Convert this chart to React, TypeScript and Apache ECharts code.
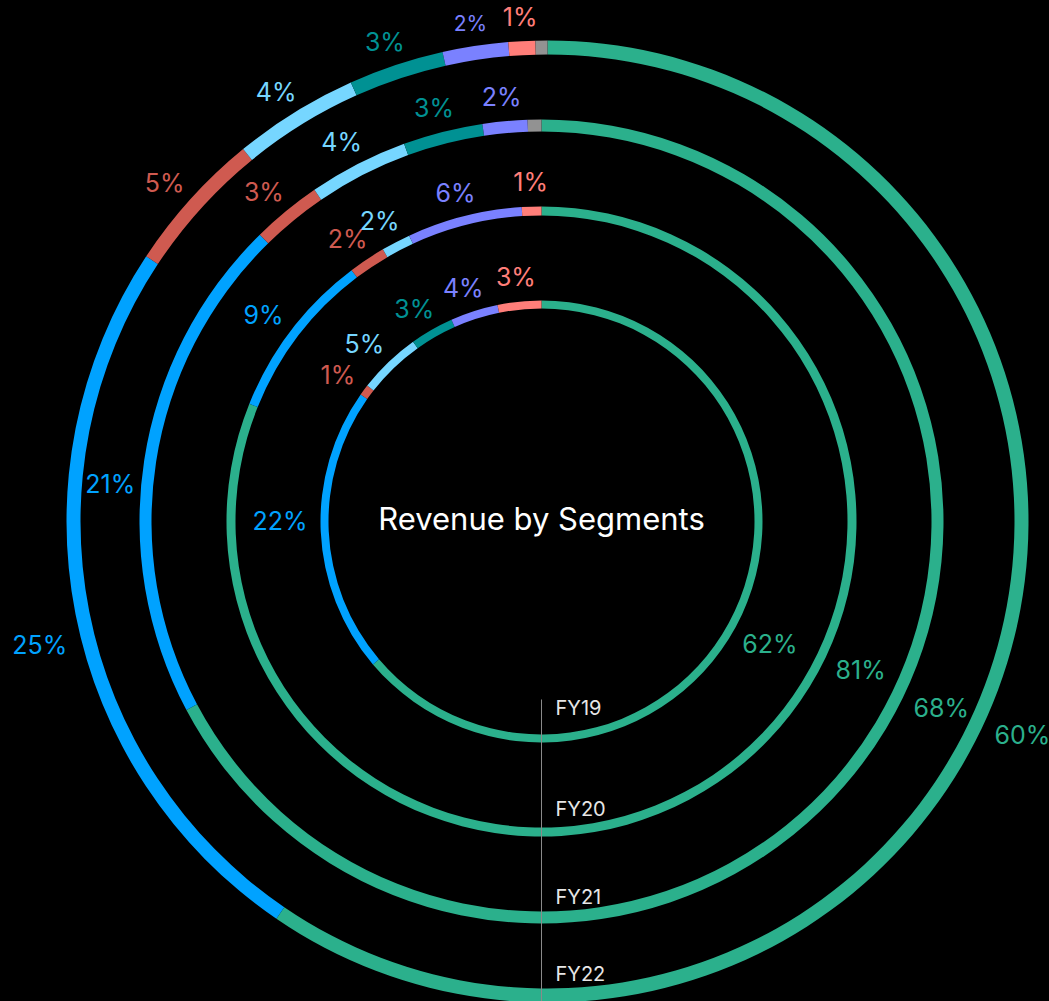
import React, { useEffect, useRef } from 'react';
import * as echarts from 'echarts';

// ---- data -------------------------------------------------------------
const years = ['FY19', 'FY20', 'FY21', 'FY22'];
const segmentNames = ['Segment A', 'Segment B', 'Segment C', 'Segment D', 'Segment E', 'Segment F', 'Segment G', 'Other'];
// arc shares (as drawn)
const fy19Share = [64, 21, 0.8, 4.6, 3.2, 3.5, 3.2, 0];
const fy20Share = [81.1, 8.6, 1.9, 1.5, 0, 5.9, 1.0, 0];
const fy21Share = [67.2, 20.4, 2.8, 4.0, 3.2, 1.8, 0, 0.55];
const fy22Share = [59.5, 24.75, 4.8, 4.2, 3.2, 2.2, 0.9, 0.4];
// percentages printed on the chart
const fy19Pct = [62, 22, 1, 5, 3, 4, 3, null];
const fy20Pct = [81, 9, 2, 2, null, 6, 1, null];
const fy21Pct = [68, 21, 3, 4, 3, 2, null, null];
const fy22Pct = [60, 25, 5, 4, 3, 2, 1, null];
const yearShares = [fy19Share, fy20Share, fy21Share, fy22Share];
const yearPcts = [fy19Pct, fy20Pct, fy21Pct, fy22Pct];

// ---- style ------------------------------------------------------------
const colors = ['#2bb08c', '#00a2ff', '#cf5a50', '#76d6ff', '#009193', '#7a81ff', '#ff7e79', '#929292'];
const CX = 541.5;
const CY = 521.5;
const ringCenters = [
  [CX, CY],
  [CX, CY],
  [CX, CY],
  [CX + 6, CY],
];
const ringRadii = [
  [213, 221],
  [306, 315],
  [390, 402],
  [467, 481],
];
const mainLabelAngles = [120, 116, 116, 115]; // degrees clockwise from 12 o'clock
const secondLabelNudge = [2.7, 0, -3.6, -3]; // degrees, label of second segment
const secondLabelGap = [13, 15, 6, 15];
const FONT = 'Inter, "Noto Sans", sans-serif';
const LABEL_SIZE = 25;
const SMALL_LABEL = { ring: 3, segment: 5, size: 21 };
const LABEL_GAP = 15;

export default function App() {
  const ref = useRef<HTMLDivElement>(null);

  useEffect(() => {
    document.body.style.margin = '0';
    document.body.style.background = '#000';
    const chart = echarts.init(ref.current!, undefined, { renderer: 'svg' });

    const series = yearShares.map((vals, si) => {
      const items = vals
        .map((v, i) => ({ v, i, pct: yearPcts[si][i] }))
        .filter((d) => d.v > 0);
      const total = items.reduce((s, d) => s + d.v, 0);
      let acc = 0;
      const midAngles = items.map((d, k) => {
        const start = acc;
        acc += d.v;
        if (k === 0) return mainLabelAngles[si];
        const mid = ((start + d.v / 2) / total) * 360;
        return k === 1 ? mid + secondLabelNudge[si] : mid;
      });
      const [r0, r1] = ringRadii[si];
      const [cx, cy] = ringCenters[si];
      return {
        type: 'pie',
        name: years[si],
        center: [cx, cy],
        radius: [r0, r1],
        startAngle: 90,
        clockwise: true,
        avoidLabelOverlap: false,
        silent: true,
        animation: false,
        itemStyle: { borderWidth: 0 },
        emphasis: { disabled: true },
        label: {
          show: true,
          position: 'outside',
          fontSize: LABEL_SIZE,
          fontFamily: FONT,
        },
        labelLine: { show: false },
        labelLayout: (p: any) => {
          const a = (midAngles[p.dataIndex] * Math.PI) / 180;
          const s = Math.sin(a);
          const c = -Math.cos(a);
          const R = r1 + (p.dataIndex === 1 ? secondLabelGap[si] : LABEL_GAP);
          const w = p.labelRect.width;
          const h = p.labelRect.height;
          return {
            x: cx + R * s + (s * w) / 2,
            y: cy + R * c + ((c * h) / 2) * 0.75,
            align: 'center',
            verticalAlign: 'middle',
          };
        },
        data: items.map((d) => ({
          name: segmentNames[d.i],
          value: d.v,
          itemStyle: { color: colors[d.i] },
          label: {
            color: colors[d.i],
            show: d.pct != null,
            fontSize: si === SMALL_LABEL.ring && d.i === SMALL_LABEL.segment ? SMALL_LABEL.size : LABEL_SIZE,
            formatter: d.pct != null ? `${d.pct}%` : '',
          },
        })),
      };
    });

    const graphic: any[] = [
      {
        type: 'text',
        x: CX,
        y: CY - 3,
        z: 100,
        style: {
          text: 'Revenue by Segments',
          fill: '#ffffff',
          font: `31px ${FONT}`,
          textAlign: 'center',
          textVerticalAlign: 'middle',
        },
      },
      {
        type: 'line',
        z: 100,
        shape: { x1: CX, y1: CY + 178, x2: CX, y2: 1001 },
        style: { stroke: '#8a8a8a', lineWidth: 1 },
      },
    ];
    const yearLabelOffsets = [27, 19, 15, 15];
    years.forEach((y, i) => {
      const [r0] = ringRadii[i];
      graphic.push({
        type: 'text',
        x: CX + 14,
        y: CY + r0 - yearLabelOffsets[i],
        z: 100,
        style: {
          text: y,
          fill: '#e6e6e6',
          font: `20px ${FONT}`,
          textAlign: 'left',
          textVerticalAlign: 'middle',
        },
      });
    });

    chart.setOption({
      backgroundColor: '#000',
      animation: false,
      series,
      graphic,
    });

    return () => chart.dispose();
  }, []);

  return <div ref={ref} style={{ width: 1049, height: 1001 }} />;
}
